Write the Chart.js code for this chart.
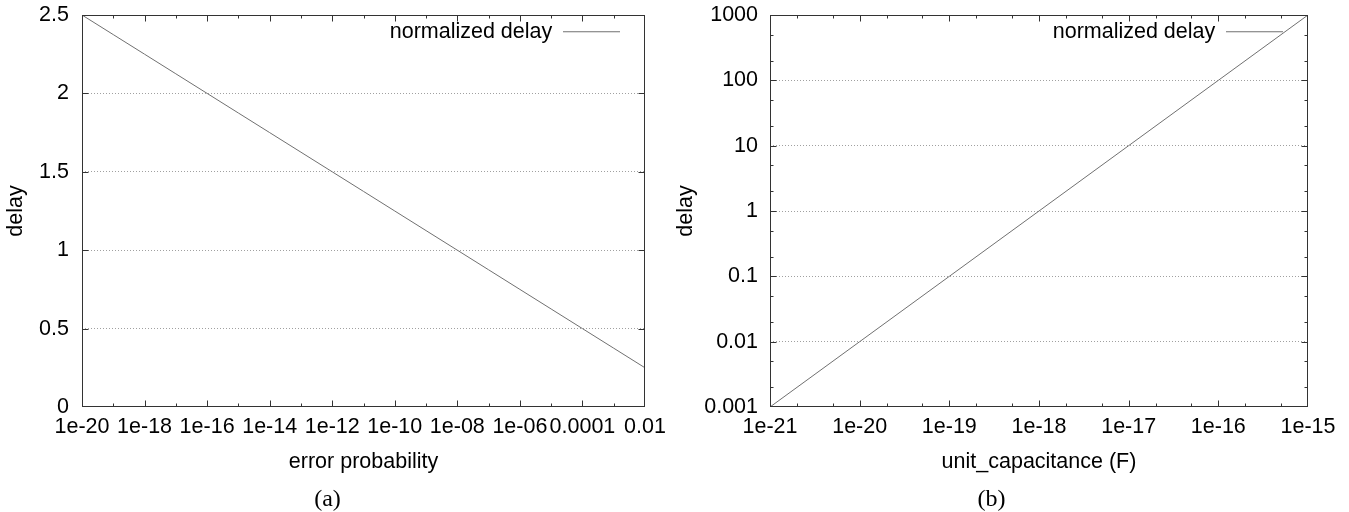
<!DOCTYPE html>
<html>
<head>
<meta charset="utf-8">
<script src="https://cdn.jsdelivr.net/npm/chart.js@4.4.1/dist/chart.umd.min.js"></script>
<style>
  html, body { margin: 0; padding: 0; background: #fff; }
  #wrap { position: relative; width: 1349px; height: 512px; }
  .panel { position: absolute; top: 0; height: 512px; }
  #panelA { left: 0; width: 675px; }
  #panelB { left: 675px; width: 674px; }
</style>
</head>
<body>
<div id="wrap">
  <div class="panel" id="panelA"><canvas id="chartA" width="675" height="512"></canvas></div>
  <div class="panel" id="panelB"><canvas id="chartB" width="674" height="512"></canvas></div>
</div>
<script>
// (a) delay vs error probability
const errorProb = [1e-20, 1e-19, 1e-18, 1e-17, 1e-16, 1e-15, 1e-14, 1e-13, 1e-12, 1e-11,
                   1e-10, 1e-9, 1e-8, 1e-7, 1e-6, 1e-5, 1e-4, 1e-3, 1e-2];
const delayA = [2.5, 2.375, 2.25, 2.125, 2.0, 1.875, 1.75, 1.625, 1.5, 1.375,
                1.25, 1.125, 1.0, 0.875, 0.75, 0.625, 0.5, 0.375, 0.25];
const xTicksA = [1e-20, 1e-18, 1e-16, 1e-14, 1e-12, 1e-10, 1e-8, 1e-6, 1e-4, 1e-2];
const xTickLabelsA = ["1e-20", "1e-18", "1e-16", "1e-14", "1e-12", "1e-10", "1e-08", "1e-06", "0.0001", "0.01"];
const xMinorA = [1e-19, 1e-17, 1e-15, 1e-13, 1e-11, 1e-9, 1e-7, 1e-5, 1e-3];
const yTicksA = [0, 0.5, 1, 1.5, 2, 2.5];
const yTickLabelsA = ["0", "0.5", "1", "1.5", "2", "2.5"];

// (b) delay vs unit capacitance
const unitCap = [1e-21, 1e-20, 1e-19, 1e-18, 1e-17, 1e-16, 1e-15];
const delayB = [0.001, 0.01, 0.1, 1, 10, 100, 1000];
const xTicksB = [1e-21, 1e-20, 1e-19, 1e-18, 1e-17, 1e-16, 1e-15];
const xTickLabelsB = ["1e-21", "1e-20", "1e-19", "1e-18", "1e-17", "1e-16", "1e-15"];
const xMinorB = [2e-21, 5e-21, 2e-20, 5e-20, 2e-19, 5e-19, 2e-18, 5e-18, 2e-17, 5e-17, 2e-16, 5e-16];
const yTicksB = [0.001, 0.01, 0.1, 1, 10, 100, 1000];
const yTickLabelsB = ["0.001", "0.01", "0.1", "1", "10", "100", "1000"];
const yMinorB = [0.002, 0.005, 0.02, 0.05, 0.2, 0.5, 2, 5, 20, 50, 200, 500];

const seriesLabel = "normalized delay";

Chart.defaults.font.family = "'Liberation Sans', Arial, Helvetica, sans-serif";
Chart.defaults.color = "#000";

const FRAME = "#333";
const LINE = "#707070";
const GRID = "#a0a0a0";
const FONT = 21.5;

// gnuplot-like frame with inward tick marks on all four sides
const gnuFrame = {
  id: "gnuFrame",
  afterDatasetsDraw(chart, args, opts) {
    const { ctx, chartArea: a, scales } = chart;
    const L = Math.round(a.left) + 0.5, R = Math.round(a.right) - 0.5;
    const T = Math.round(a.top) + 0.5, B = Math.round(a.bottom) - 0.5;
    ctx.save();
    ctx.strokeStyle = FRAME;
    ctx.lineWidth = 1;
    ctx.beginPath();
    const marks = (scale, values, len) => {
      values.forEach((v) => {
        const p = Math.round(scale.getPixelForValue(v)) + 0.5;
        if (scale.isHorizontal()) {
          if (p <= L + 1 || p >= R - 1) return;
          ctx.moveTo(p, B); ctx.lineTo(p, B - len);
          ctx.moveTo(p, T); ctx.lineTo(p, T + len);
        } else {
          if (p <= T + 1 || p >= B - 1) return;
          ctx.moveTo(L, p); ctx.lineTo(L + len, p);
          ctx.moveTo(R, p); ctx.lineTo(R - len, p);
        }
      });
    };
    marks(scales.x, scales.x.ticks.map((t) => t.value), 6);
    marks(scales.y, scales.y.ticks.map((t) => t.value), 6);
    marks(scales.x, opts.xMinor || [], 3);
    marks(scales.y, opts.yMinor || [], 3);
    ctx.stroke();
    ctx.strokeRect(L, T, R - L, B - T);
    ctx.restore();
  },
};

// move the chartArea legend to the top right corner
const keyCorner = {
  id: "keyCorner",
  afterLayout(chart, args, opts) {
    const lg = chart.legend;
    if (!lg) return;
    const a = chart.chartArea;
    const w = lg.width, h = lg.height;
    lg.left = a.right - w - opts.right;
    lg.right = lg.left + w;
    lg.top = a.top + opts.top;
    lg.bottom = lg.top + h;
  },
};

function setTicks(values) {
  return (scale) => { scale.ticks = values.map((v) => ({ value: v })); };
}

function innerGrid(values) {
  const lo = values[0], hi = values[values.length - 1];
  return (c) => (c.tick && (c.tick.value === lo || c.tick.value === hi)) ? "rgba(0,0,0,0)" : GRID;
}

function noEdgePadding(s) {
  s.paddingTop = 0; s.paddingBottom = 0; s.paddingLeft = 0; s.paddingRight = 0;
}

function makeChart(id, cfg) {
  return new Chart(document.getElementById(id).getContext("2d"), {
    type: "line",
    data: {
      datasets: [{
        label: seriesLabel,
        data: cfg.xs.map((x, i) => ({ x: x, y: cfg.ys[i] })),
        borderColor: LINE,
        backgroundColor: LINE,
        borderWidth: 1,
        pointRadius: 0,
        tension: 0,
        fill: false,
      }],
    },
    options: {
      responsive: false,
      animation: false,
      layout: { padding: cfg.padding },
      scales: {
        x: {
          type: "logarithmic",
          min: cfg.xTicks[0],
          max: cfg.xTicks[cfg.xTicks.length - 1],
          afterBuildTicks: setTicks(cfg.xTicks),
          afterFit: (s) => { s.height = 79; noEdgePadding(s); },
          grid: { display: false, drawTicks: false },
          border: { display: false },
          ticks: {
            autoSkip: false, maxRotation: 0, minRotation: 0, padding: 7,
            font: { size: FONT },
            callback: (v, i) => cfg.xTickLabels[i],
          },
          title: {
            display: true, text: cfg.xTitle,
            font: { size: FONT, lineHeight: 1 },
            padding: { top: 0, bottom: 13 },
          },
        },
        y: {
          type: cfg.yType,
          min: cfg.yTicks[0],
          max: cfg.yTicks[cfg.yTicks.length - 1],
          afterBuildTicks: setTicks(cfg.yTicks),
          afterFit: (s) => { s.width = cfg.yWidth; noEdgePadding(s); },
          grid: { drawTicks: false, color: innerGrid(cfg.yTicks), lineWidth: 1 },
          border: { display: false, dash: [1, 2] },
          ticks: {
            padding: cfg.yTickPad,
            font: { size: FONT },
            callback: (v, i) => cfg.yTickLabels[i],
          },
          title: {
            display: true, text: "delay",
            font: { size: FONT, lineHeight: 0.6 },
            padding: { top: cfg.yTitlePad, bottom: 0 },
          },
        },
      },
      plugins: {
        legend: {
          position: "chartArea",
          align: "start",
          rtl: true,
          labels: {
            usePointStyle: true,
            pointStyle: "line",
            pointStyleWidth: 57,
            padding: 10,
            color: "#000",
            font: { size: FONT },
          },
        },
        keyCorner: { right: 15, top: -4 },
        title: {
          display: true,
          text: cfg.caption,
          position: "bottom",
          color: "#000",
          font: { family: "'Liberation Serif', 'Times New Roman', serif", size: 24, weight: "normal", lineHeight: 1 },
          padding: { top: 2, bottom: 0 },
        },
        tooltip: { enabled: false },
        gnuFrame: { xMinor: cfg.xMinor, yMinor: cfg.yMinor },
      },
    },
    plugins: [gnuFrame, keyCorner],
  });
}

makeChart("chartA", {
  xs: errorProb, ys: delayA,
  xTicks: xTicksA, xTickLabels: xTickLabelsA, xMinor: xMinorA,
  yType: "linear", yTicks: yTicksA, yTickLabels: yTickLabelsA, yMinor: [],
  xTitle: "error probability", caption: "(a)",
  padding: { left: 10, right: 30, top: 15, bottom: 0 },
  yWidth: 72, yTitlePad: 0, yTickPad: 13,
});

makeChart("chartB", {
  xs: unitCap, ys: delayB,
  xTicks: xTicksB, xTickLabels: xTickLabelsB, xMinor: xMinorB,
  yType: "logarithmic", yTicks: yTicksB, yTickLabels: yTickLabelsB, yMinor: yMinorB,
  xTitle: "unit_capacitance (F)", caption: "(b)",
  padding: { left: 0, right: 41, top: 15, bottom: 0 },
  yWidth: 95, yTitlePad: 5, yTickPad: 12,
});
</script>
</body>
</html>
